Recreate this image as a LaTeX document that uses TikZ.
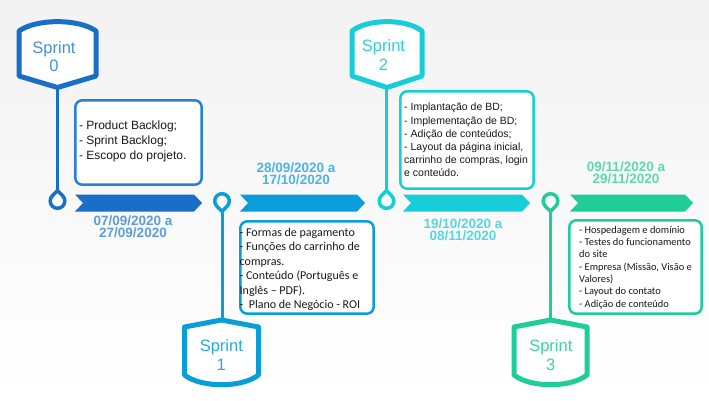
\documentclass[tikz,border=0pt]{standalone}
\usepackage{fontspec}
\setmainfont{Liberation Sans}
\newfontfamily\calfont{Carlito}
\usetikzlibrary{calc}
\definecolor{sprA}{HTML}{196EC8}
\definecolor{sprB}{HTML}{0A9ED8}
\definecolor{sprC}{HTML}{16CDD8}
\definecolor{sprD}{HTML}{1ECD98}
\definecolor{boxA}{HTML}{2A7FD4}
\definecolor{txtA}{HTML}{4A8FD8}
\definecolor{txtB}{HTML}{2AAAE0}
\definecolor{txtC}{HTML}{30D0DA}
\definecolor{txtD}{HTML}{3DD3A2}
\definecolor{dateA}{HTML}{5C9DDB}
\definecolor{dateB}{HTML}{4AB5E6}
\definecolor{dateC}{HTML}{55D6E0}
\definecolor{dateD}{HTML}{5FD8AE}
\tikzset{
  stem/.style={line width=3},
  badge/.style={line width=5, fill=white, line join=round},
  pin/.style={line width=3.5, fill=white, line join=round},
  box/.style={line width=2.5, fill=white, rounded corners=7},
  boxtxt/.style={anchor=north west, inner sep=0, align=left, text=black!90},
  datetxt/.style={anchor=north, inner sep=0, align=center, font=\fontsize{13.5}{12}\selectfont\bfseries},
  badgetxt/.style={anchor=north, inner sep=0, align=center, font=\fontsize{16.5}{18.5}\selectfont},
}
% badge with pointed bottom: cx, half width, colour, name of point
\newcommand\badgedown[4]{%
  \draw[badge, draw=#3] (#1-#2,76) -- (#1-#2,31) .. controls (#1-0.55*#2,18.5) and (#1+0.55*#2,18.5) .. (#1+#2,31) -- (#1+#2,76) -- (#1,87.5) -- cycle;
  \coordinate (#4) at (#1,87.5);
}
% badge with pointed top
\newcommand\badgeup[4]{%
  \draw[badge, draw=#3] (#1-#2,327) -- (#1,320) -- (#1+#2,327) -- (#1+#2,375) .. controls (#1+0.55*#2,388) and (#1-0.55*#2,388) .. (#1-#2,375) -- cycle;
  \coordinate (#4) at (#1,320);
}
% pin with tip up: name, cx, cy, colour
\newcommand\pinup[4]{%
  \draw[pin, draw=#4] (#2,#3-10.3) -- ($(#2,#3)+(-45:7.3)$) arc[start angle=-45, end angle=225, radius=7.3] -- cycle;
}
\newcommand\pindown[4]{%
  \draw[pin, draw=#4] (#2,#3+10.3) -- ($(#2,#3)+(135:7.3)$) arc[start angle=135, end angle=405, radius=7.3] -- cycle;
}
% chevron bar: x1, x2, colour
\newcommand\chevbar[3]{%
  \fill[#3] (#1,194.5) -- (#2-8,194.5) -- (#2,203) -- (#2-8,211.5) -- (#1,211.5) -- (#1+8,203) -- cycle;
}
\begin{document}
\begin{tikzpicture}[x=1pt, y=-1pt, line join=round]
\useasboundingbox (0,0) rectangle (709,400);
\shade[top color=black!5, middle color=black!2.5, bottom color=white] (0,0) rectangle (709,400);

% coordinates of pin tips
\coordinate (p0) at (57.5,190.7);
\coordinate (p1) at (222,211.3);
\coordinate (p2) at (386.5,190.7);
\coordinate (p3) at (550.5,211.3);
\coordinate (b0) at (57.5,87.5);
\coordinate (b1) at (222,320);
\coordinate (b2) at (386.5,87.5);
\coordinate (b3) at (550.5,320);

% stems
\draw[stem, sprA] (b0) -- (p0);
\draw[stem, sprB] (b1) -- (p1);
\draw[stem, sprC] (b2) -- (p2);
\draw[stem, sprD] (b3) -- (p3);

% bars
\chevbar{75}{202}{sprA}
\chevbar{240}{365}{sprB}
\chevbar{403}{530}{sprC}
\chevbar{570}{693}{sprD}

% pins
\pinup{q0}{57.5}{201}{sprA}
\pindown{q1}{222}{201}{sprB}
\pinup{q2}{386.5}{201}{sprC}
\pindown{q3}{550.5}{201}{sprD}

% badges
\badgedown{57.5}{38.5}{sprA}{bb0}
\badgeup{221.5}{37}{sprB}{bb1}
\badgedown{387}{35}{sprC}{bb2}
\badgeup{550.5}{36.5}{sprD}{bb3}

\node[badgetxt, text=txtA] (s0) at (54,41) {Sprint\\0};
\node[badgetxt, text=txtB] (s1) at (221.3,339.5) {Sprint\\1};
\node[badgetxt, text=txtC] (s2) at (383.5,39.5) {Sprint\\2};
\node[badgetxt, text=txtD] (s3) at (550.8,339.5) {Sprint\\3};

% boxes
\draw[box, draw=boxA] (75.3,100.3) rectangle (201.7,184.7);
\draw[box, draw=sprB] (240.3,221.3) rectangle (373.7,313.7);
\draw[box, draw=sprC] (400.3,91.3) rectangle (533.7,188.7);
\draw[box, draw=sprD] (569.3,220.3) rectangle (701.7,313.7);

\node[boxtxt, font=\fontsize{12}{15}\selectfont] (t0) at (78.8,120.6)
  {- Product Backlog;\\- Sprint Backlog;\\- Escopo do projeto.};
\node[boxtxt, font=\calfont\fontsize{12}{14.5}\selectfont] (t1) at (239.5,227.7)
  {- Formas de pagamento\\- Funções do carrinho de\\compras.\\- Conteúdo (Português e\\Inglês – PDF).\\- \ Plano de Negócio - ROI};
\node[boxtxt, font=\fontsize{10.5}{13.2}\selectfont] (t2) at (404,103)
  {- Implantação de BD;\\- Implementação de BD;\\- Adição de conteúdos;\\- Layout da página inicial,\\carrinho de compras, login\\e conteúdo.};
\node[boxtxt, font=\calfont\fontsize{10.4}{12.33}\selectfont] (t3) at (579,225.8)
  {- Hospedagem e domínio\\- Testes do funcionamento\\do site\\- Empresa (Missão, Visão e\\Valores)\\- Layout do contato\\- Adição de conteúdo};

% dates
\node[datetxt, text=dateA] (d0) at (133,215.8) {07/09/2020 a\\27/09/2020};
\node[datetxt, text=dateB] (d1) at (296,162.4) {28/09/2020 a\\17/10/2020};
\node[datetxt, text=dateC] (d2) at (463,218.4) {19/10/2020 a\\08/11/2020};
\node[datetxt, text=dateD] (d3) at (626,161.8) {09/11/2020 a\\29/11/2020};
\end{tikzpicture}
\end{document}
